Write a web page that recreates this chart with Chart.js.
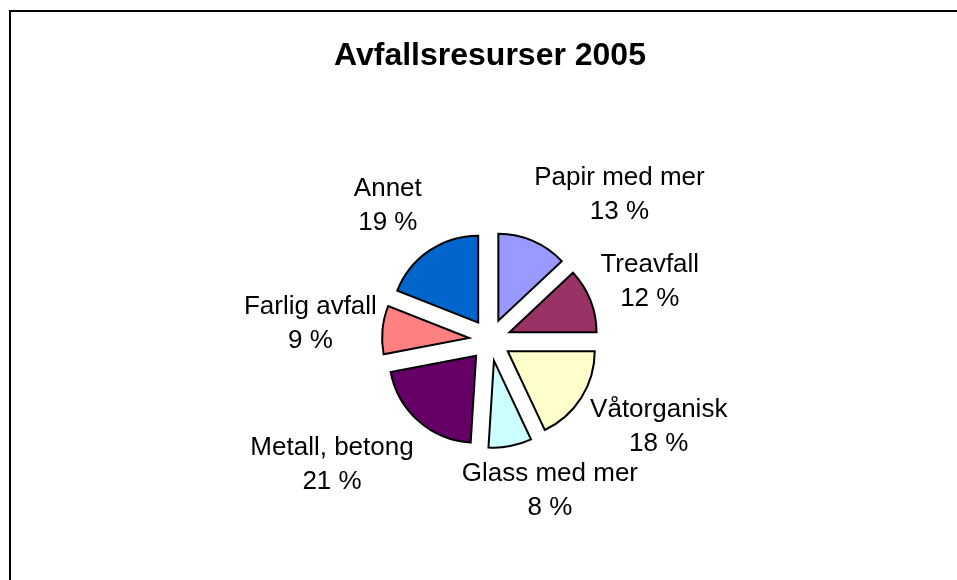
<!DOCTYPE html>
<html>
<head>
<meta charset="utf-8">
<script src="https://cdn.jsdelivr.net/npm/chart.js@4"></script>
<style>
  html, body { margin: 0; padding: 0; background: #fff; overflow: hidden; }
  #chart_wrap { position: relative; width: 957px; height: 580px; }
  #frame { position: absolute; left: 9px; top: 10px; width: 2000px; height: 2000px;
           border-left: 2px solid #000; border-top: 2px solid #000; pointer-events: none; }
</style>
</head>
<body>
<div id="chart_wrap">
  <canvas id="waste_chart"></canvas>
  <div id="frame"></div>
</div>
<script>
// Avfallsresurser 2005 - share of each waste type (%)
const waste_categories = ['Papir med mer', 'Treavfall', 'Våtorganisk', 'Glass med mer', 'Metall, betong', 'Farlig avfall', 'Annet'];
const waste_shares = [13, 12, 18, 8, 21, 9, 19];
const slice_colors = ['#9999FF', '#993366', '#FFFFCC', '#CCFFFF', '#660066', '#FF8080', '#0066CC'];

const label_font = '26px "Liberation Sans", Arial, sans-serif';

// pushes every slice out along its middle angle (keeps radius the same)
const explode_plugin = {
  id: 'explode_slices',
  afterDatasetUpdate(chart, args, opts) {
    args.meta.data.forEach(arc => {
      const mid = (arc.startAngle + arc.endAngle) / 2;
      arc.x += Math.cos(mid) * opts.distance;
      arc.y += Math.sin(mid) * opts.distance;
    });
  }
};

// two line labels outside each slice: name and percent
const slice_label_plugin = {
  id: 'slice_labels',
  afterDatasetsDraw(chart, args, opts) {
    const ctx = chart.ctx;
    const area = chart.chartArea;
    const cx = (area.left + area.right) / 2;
    const cy = (area.top + area.bottom) / 2;
    const meta = chart.getDatasetMeta(0);
    ctx.save();
    ctx.font = label_font;
    ctx.fillStyle = '#000';
    ctx.textAlign = 'center';
    ctx.textBaseline = 'middle';
    meta.data.forEach((arc, i) => {
      const mid = (arc.startAngle + arc.endAngle) / 2;
      const ux = Math.cos(mid);
      const uy = Math.sin(mid);
      const line_1 = waste_categories[i];
      const line_2 = waste_shares[i] + ' %';
      const half_w = Math.max(ctx.measureText(line_1).width, ctx.measureText(line_2).width) / 2;
      const dist = arc.outerRadius + opts.explode + opts.gap;
      const nudge = opts.nudge[i] || [0, 0];
      const lx = cx + ux * dist + ux * half_w + nudge[0];
      const ly = cy + uy * dist + uy * opts.halfHeight + nudge[1];
      ctx.fillText(line_1, lx, ly - opts.lineGap / 2);
      ctx.fillText(line_2, lx, ly + opts.lineGap / 2);
    });
    ctx.restore();
  }
};

const ctx = document.getElementById('waste_chart').getContext('2d');

const waste_chart = new Chart(ctx, {
  type: 'pie',
  data: {
    labels: waste_categories,
    datasets: [{
      data: waste_shares,
      backgroundColor: slice_colors,
      borderColor: '#000',
      borderWidth: 2,
      borderJoinStyle: 'miter'
    }]
  },
  options: {
    responsive: true,
    maintainAspectRatio: false,
    animation: false,
    radius: 87,
    layout: {
      padding: { left: 23, right: 0, top: 0, bottom: 0 }
    },
    plugins: {
      legend: { display: false },
      tooltip: { enabled: false },
      title: {
        display: true,
        text: 'Avfallsresurser 2005',
        color: '#000',
        font: { family: '"Liberation Sans", Arial, sans-serif', size: 32, weight: 'bold', lineHeight: 1.2 },
        padding: { top: 37, bottom: 24.6 }
      },
      explode_slices: { distance: 21 },
      slice_labels: {
        explode: 21,
        gap: 22,
        halfHeight: 30,
        lineGap: 34,
        nudge: [[44, 2], [-7, 1], [1, 1], [19, -6], [-18, 5], [16, -1], [-10, -2]]
      }
    }
  },
  plugins: [explode_plugin, slice_label_plugin]
});
</script>
</body>
</html>
